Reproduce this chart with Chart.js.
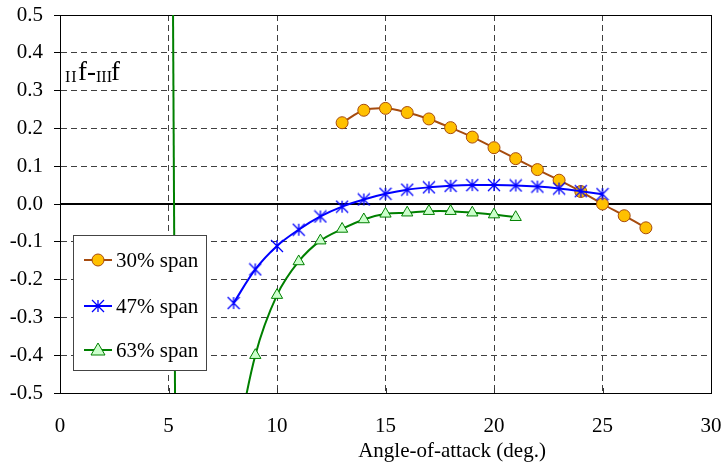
<!DOCTYPE html>
<html>
<head>
<meta charset="utf-8">
<script src="https://cdn.jsdelivr.net/npm/chart.js@4.4.1/dist/chart.umd.min.js"></script>
<style>
  html, body { margin: 0; padding: 0; background: #fff; }
  #chart { display: block; }
</style>
</head>
<body>
<canvas id="chart" width="723" height="465"></canvas>
<script>
// Angle-of-attack (deg.) for each spanwise station
const aoa30 = [13, 14, 15, 16, 17, 18, 19, 20, 21, 22, 23, 24, 25, 26, 27];
const aoa47 = [8, 9, 10, 11, 12, 13, 14, 15, 16, 17, 18, 19, 20, 21, 22, 23, 24, 25];
const aoa63 = [8, 9, 10, 11, 12, 13, 14, 15, 16, 17, 18, 19, 20, 21];

// IIf - IIIf values
const span30 = [0.215, 0.248, 0.253, 0.242, 0.225, 0.202, 0.177, 0.149, 0.120, 0.091, 0.063, 0.033, 0.000, -0.031, -0.063];
const span47 = [-0.262, -0.173, -0.111, -0.068, -0.033, -0.007, 0.012, 0.027, 0.038, 0.044, 0.048, 0.050, 0.050, 0.049, 0.046, 0.041, 0.034, 0.026];
const span63 = [-0.68, -0.400, -0.241, -0.152, -0.097, -0.066, -0.041, -0.026, -0.023, -0.019, -0.019, -0.023, -0.028, -0.035];

// near-vertical 63% trace running off the plot
const jumpAoa = [5.2, 5.31];
const jumpVal = [0.6, -0.6];

const seriesNames = ['30% span', '47% span', '63% span'];
const xTickValues = [0, 5, 10, 15, 20, 25, 30];
const yTickValues = [0.5, 0.4, 0.3, 0.2, 0.1, 0.0, -0.1, -0.2, -0.3, -0.4, -0.5];
const yLabel = ['II', 'f', '-', 'III', 'f'];
const xTitle = 'Angle-of-attack (deg.)';

const FONT = '"Liberation Serif", "Times New Roman", serif';
const BROWN = '#a64b0e';
const BLUE = '#0000ff';
const GREEN = '#008000';

const toPoints = (xs, ys) => xs.map((x, i) => ({ x: x, y: ys[i] }));

// asterisk marker: vertical bar plus an X
function makeStar(size, color) {
    const c = document.createElement('canvas');
    c.width = size; c.height = size;
    const g = c.getContext('2d');
    const m = size / 2, r = size / 2 - 1;
    g.strokeStyle = color;
    g.lineWidth = 1.3;
    g.beginPath();
    g.moveTo(m, m - r); g.lineTo(m, m + r);
    g.moveTo(m - r, m - r); g.lineTo(m + r, m + r);
    g.moveTo(m + r, m - r); g.lineTo(m - r, m + r);
    g.stroke();
    return c;
}
const starMark = makeStar(14, BLUE);

const frame = {
    id: 'frame',
    beforeDatasetsDraw(chart) {
        const { ctx, chartArea: a, scales } = chart;
        const y0 = Math.round(scales.y.getPixelForValue(0));
        ctx.save();
        ctx.strokeStyle = '#000';
        ctx.lineWidth = 2;
        ctx.beginPath();
        ctx.moveTo(a.left, y0);
        ctx.lineTo(a.right, y0);
        ctx.stroke();
        // short inward ticks on the x axis
        ctx.lineWidth = 1;
        ctx.strokeStyle = '#333';
        xTickValues.forEach(v => {
            const px = Math.round(scales.x.getPixelForValue(v)) + 0.5;
            ctx.beginPath();
            ctx.moveTo(px, a.bottom);
            ctx.lineTo(px, a.bottom - 5);
            ctx.stroke();
        });
        ctx.strokeStyle = '#000';
        ctx.strokeRect(Math.round(a.left) + 0.5, Math.round(a.top) + 0.5,
            Math.round(a.right - a.left), Math.round(a.bottom - a.top));
        ctx.restore();
    },
    afterDraw(chart) {
        const { ctx } = chart;
        ctx.save();

        // y quantity label
        const parts = [
            { t: yLabel[0], size: 16, sp: 1, x: 65, y: 82 },
            { t: yLabel[1], size: 27, sp: 0, x: 78, y: 80 },
            { t: yLabel[2], size: 27, sp: 0, x: 87, y: 80 },
            { t: yLabel[3], size: 16, sp: 0, x: 96, y: 82 },
            { t: yLabel[4], size: 27, sp: 0, x: 111, y: 80 }
        ];
        ctx.fillStyle = '#000';
        ctx.textBaseline = 'alphabetic';
        ctx.textAlign = 'left';
        parts.forEach(p => {
            ctx.font = p.size + 'px ' + FONT;
            ctx.letterSpacing = p.sp + 'px';
            ctx.fillText(p.t, p.x, p.y);
        });
        ctx.letterSpacing = '0px';

        // x axis title
        ctx.font = '21px ' + FONT;
        ctx.textAlign = 'center';
        ctx.textBaseline = 'middle';
        ctx.fillText(xTitle, 452, 451);

        // legend box
        const bx = 73.5, by = 235.5, bw = 133, bh = 135;
        ctx.fillStyle = '#fff';
        ctx.fillRect(bx, by, bw, bh);
        ctx.strokeStyle = '#444';
        ctx.lineWidth = 1;
        ctx.strokeRect(bx, by, bw, bh);

        const rows = [260, 306, 350];
        const colors = [BROWN, BLUE, GREEN];
        rows.forEach((ry, i) => {
            ctx.strokeStyle = colors[i];
            ctx.lineWidth = 2;
            ctx.beginPath();
            ctx.moveTo(84, ry);
            ctx.lineTo(112, ry);
            ctx.stroke();
            if (i === 0) {
                ctx.beginPath();
                ctx.arc(98, ry, 6, 0, Math.PI * 2);
                ctx.fillStyle = '#ffc000';
                ctx.fill();
                ctx.lineWidth = 1;
                ctx.strokeStyle = BROWN;
                ctx.stroke();
            } else if (i === 1) {
                ctx.drawImage(starMark, 98 - 7, ry - 7);
            } else {
                ctx.beginPath();
                ctx.moveTo(98, ry - 7);
                ctx.lineTo(105, ry + 5);
                ctx.lineTo(91, ry + 5);
                ctx.closePath();
                ctx.fillStyle = '#ccffcc';
                ctx.fill();
                ctx.lineWidth = 1;
                ctx.strokeStyle = GREEN;
                ctx.stroke();
            }
            ctx.fillStyle = '#000';
            ctx.font = '21px ' + FONT;
            ctx.textAlign = 'left';
            ctx.textBaseline = 'middle';
            ctx.fillText(seriesNames[i], 116, ry + 1);
        });
        ctx.restore();
    }
};

const ctx = document.getElementById('chart');
new Chart(ctx, {
    type: 'line',
    data: {
        datasets: [
            {
                label: seriesNames[2],
                data: toPoints(aoa63, span63),
                borderColor: GREEN,
                borderWidth: 2,
                pointStyle: 'triangle',
                pointRadius: 6.5,
                pointBackgroundColor: '#ccffcc',
                pointBorderColor: GREEN,
                pointBorderWidth: 1,
                tension: 0.35,
                clip: 0
            },
            {
                label: seriesNames[1],
                data: toPoints(aoa47, span47),
                borderColor: BLUE,
                borderWidth: 2,
                pointStyle: starMark,
                pointRadius: 7,
                tension: 0.35,
                clip: 0
            },
            {
                label: seriesNames[0],
                data: toPoints(aoa30, span30),
                borderColor: BROWN,
                borderWidth: 2,
                pointStyle: 'circle',
                pointRadius: 6,
                pointBackgroundColor: '#ffc000',
                pointBorderColor: BROWN,
                pointBorderWidth: 1,
                tension: 0.35,
                clip: 0
            },
            {
                label: 'jump',
                data: toPoints(jumpAoa, jumpVal),
                borderColor: GREEN,
                borderWidth: 2,
                pointRadius: 0,
                tension: 0,
                clip: 0
            }
        ]
    },
    options: {
        responsive: false,
        animation: false,
        layout: { padding: { top: 15, right: 12, left: 0, bottom: 0 } },
        plugins: {
            legend: { display: false },
            tooltip: { enabled: false }
        },
        scales: {
            x: {
                type: 'linear',
                min: 0,
                max: 30,
                afterFit(scale) {
                    scale.height = 72;
                    scale.paddingLeft = 0;
                    scale.paddingRight = 0;
                },
                afterBuildTicks(scale) { scale.ticks = xTickValues.map(v => ({ value: v })); },
                ticks: {
                    color: '#000',
                    font: { family: FONT, size: 21 },
                    padding: 21,
                    maxRotation: 0,
                    callback: v => String(v)
                },
                grid: { color: '#404040', lineWidth: 1, drawTicks: false },
                border: { display: true, color: '#000', width: 1, dash: [6, 4] }
            },
            y: {
                type: 'linear',
                min: -0.5,
                max: 0.5,
                afterFit(scale) {
                    scale.width = 60;
                    scale.paddingTop = 0;
                    scale.paddingBottom = 0;
                },
                afterBuildTicks(scale) { scale.ticks = yTickValues.map(v => ({ value: v })); },
                ticks: {
                    color: '#000',
                    font: { family: FONT, size: 21 },
                    padding: 11,
                    callback: v => (Math.abs(v) < 1e-9 ? 0 : v).toFixed(1)
                },
                grid: { color: '#404040', lineWidth: 1, drawTicks: true, tickLength: 6, tickColor: '#000' },
                border: { display: true, color: '#000', width: 1, dash: [6, 4] }
            }
        }
    },
    plugins: [frame]
});
</script>
</body>
</html>
